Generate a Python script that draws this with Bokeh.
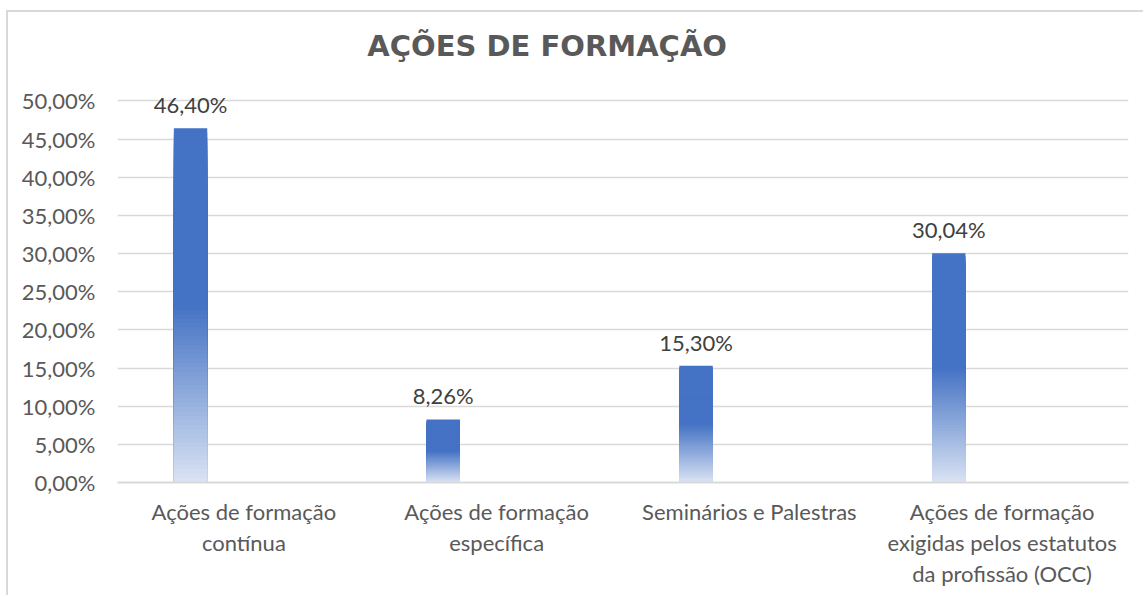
from bokeh.plotting import figure
from bokeh.models import (ColumnDataSource, FactorRange, Range1d, FixedTicker,
                          LabelSet, Label)
from bokeh.core.properties import value
from bokeh.transform import dodge
from bokeh.embed import file_html
from bokeh.resources import INLINE

# ---- data ----
categories = [
    "Ações de formação\ncontínua",
    "Ações de formação\nespecífica",
    "Seminários e Palestras",
    "Ações de formação\nexigidas pelos estatutos\nda profissão (OCC)",
]
values = [46.40, 8.26, 15.30, 30.04]
value_labels = ["46,40%", "8,26%", "15,30%", "30,04%"]
y_ticks = [0, 5, 10, 15, 20, 25, 30, 35, 40, 45, 50]
y_tick_labels = ["0,00%", "5,00%", "10,00%", "15,00%", "20,00%", "25,00%",
                 "30,00%", "35,00%", "40,00%", "45,00%", "50,00%"]
title_text = "AÇÕES DE FORMAÇÃO"

TOP = (0x44, 0x72, 0xC4)
BOT = (0xDA, 0xE3, 0xF3)
N = 80


def grad_color(f):
    if f >= 0.5:
        c = TOP
    else:
        t = f / 0.5
        c = tuple(round(BOT[k] + (TOP[k] - BOT[k]) * t) for k in range(3))
    return "#%02x%02x%02x" % c


seg_cat, seg_top, seg_col = [], [], []
for i in range(N, 0, -1):
    for c, v in zip(categories, values):
        seg_cat.append(c)
        seg_top.append(v * i / N)
        seg_col.append(grad_color((i - 0.5) / N))
seg_src = ColumnDataSource(dict(cat=seg_cat, top=seg_top, color=seg_col))

lab_src = ColumnDataSource(dict(cat=categories, val=values, text=value_labels))

FONT = "Lato"

p = figure(width=1137, height=585, output_backend="svg", toolbar_location=None,
           x_range=FactorRange(*categories, range_padding=0),
           y_range=Range1d(0, 60),
           min_border_left=109, min_border_right=17,
           min_border_top=12, min_border_bottom=115)
p.styles = {"border-left": "2px solid #d9d9d9", "border-top": "2px solid #d9d9d9",
            "margin-left": "6px", "margin-top": "10px"}

p.vbar(x=dodge("cat", -0.211, range=p.x_range), top="top", bottom=0,
       width=0.132, source=seg_src, fill_color="color", line_color=None)

labels = LabelSet(x=dodge("cat", -0.211, range=p.x_range), y="val", text="text",
                  source=lab_src, y_offset=15, text_align="center",
                  text_baseline="alphabetic", text_font=value(FONT),
                  text_font_size="22px", text_color="#404040")
p.add_layout(labels)

title = Label(x=1.70, y=57.2, text=title_text, text_align="center",
              text_baseline="alphabetic", text_font="DejaVu Sans",
              text_font_style="bold", text_font_size="29px",
              text_color="#595959")
p.add_layout(title)

p.yaxis.ticker = FixedTicker(ticks=y_ticks)
p.yaxis.major_label_overrides = {t: l for t, l in zip(y_ticks, y_tick_labels)}
p.yaxis.axis_line_color = None
p.yaxis.major_tick_line_color = None
p.yaxis.minor_tick_line_color = None
p.yaxis.major_label_standoff = 16
p.yaxis.major_label_text_font = FONT
p.yaxis.major_label_text_font_size = "22px"
p.yaxis.major_label_text_color = "#595959"

p.xaxis.axis_line_color = "#d9d9d9"
p.xaxis.axis_line_width = 2
p.xaxis.major_tick_line_color = None
p.xaxis.minor_tick_line_color = None
p.xaxis.major_label_standoff = 9
p.xaxis.major_label_text_font = FONT
p.xaxis.major_label_text_font_size = "22px"
p.xaxis.major_label_text_color = "#595959"
p.xaxis.major_label_text_line_height = 1.15

p.xgrid.grid_line_color = None
p.ygrid.ticker = FixedTicker(ticks=y_ticks)
p.ygrid.grid_line_color = "#d9d9d9"
p.ygrid.grid_line_width = 1.5
p.outline_line_color = None

open("out.html", "w").write(file_html(p, INLINE))
